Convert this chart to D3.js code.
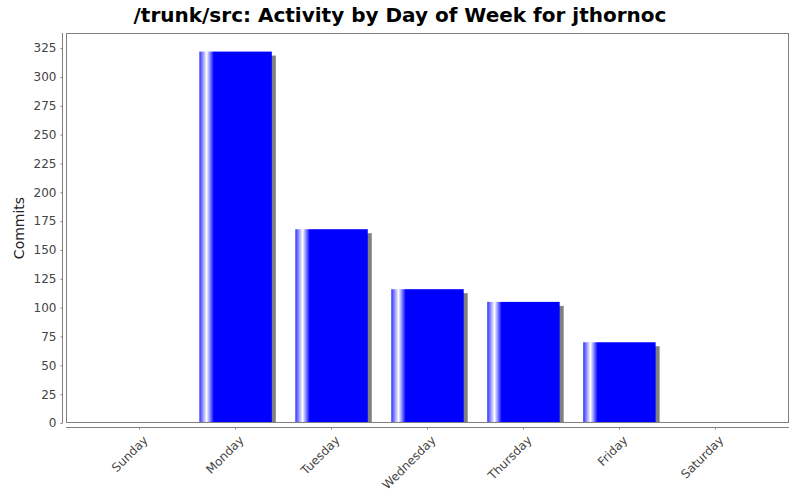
<!DOCTYPE html>
<html>
<head>
<meta charset="utf-8">
<script src="https://cdn.jsdelivr.net/npm/d3@7"></script>
<style>
body { margin: 0; background: #fff; }
svg { display: block; }
</style>
</head>
<body>
<svg id="chart" width="800" height="500"></svg>
<script>
const titleText = "/trunk/src: Activity by Day of Week for jthornoc";
const yAxisTitle = "Commits";
const days = ["Sunday", "Monday", "Tuesday", "Wednesday", "Thursday", "Friday", "Saturday"];
const commits = [0, 322, 168, 116, 105, 70, 0];
const yTicks = [0, 25, 50, 75, 100, 125, 150, 175, 200, 225, 250, 275, 300, 325];

const svg = d3.select("#chart");
const plot = { left: 66, top: 33, right: 789, bottom: 423 };
const font = "DejaVu Sans, sans-serif";

const x = d3.scaleBand()
  .domain(days)
  .range([plot.left, plot.right])
  .paddingInner(0.245)
  .paddingOuter(0.39);

const y = d3.scaleLinear()
  .domain([0, d3.max(commits) * 1.05])
  .range([plot.bottom, plot.top]);

const defs = svg.append("defs");
const grad = defs.append("linearGradient").attr("id", "barGrad")
  .attr("x1", "0%").attr("x2", "100%").attr("y1", "0%").attr("y2", "0%");
[[0, "#3030ff"], [0.1, "#ffffff"], [0.2, "#0000ff"], [0.8, "#0000ff"], [1, "#0000ff"]]
  .forEach(([o, c]) => grad.append("stop").attr("offset", o).attr("stop-color", c));
defs.append("clipPath").attr("id", "plotClip").append("rect")
  .attr("x", plot.left).attr("y", plot.top)
  .attr("width", plot.right - plot.left).attr("height", plot.bottom - plot.top);

// plot background
svg.append("rect").attr("x", plot.left).attr("y", plot.top)
  .attr("width", plot.right - plot.left).attr("height", plot.bottom - plot.top)
  .attr("fill", "#ffffff");

const barsG = svg.append("g").attr("clip-path", "url(#plotClip)");
const data = days.map((d, i) => ({ day: d, v: commits[i] })).filter(d => d.v > 0);

// shadows
barsG.selectAll("rect.shadow").data(data).enter().append("rect")
  .attr("class", "shadow")
  .attr("x", d => x(d.day) + 4)
  .attr("y", d => y(d.v) + 4)
  .attr("width", x.bandwidth())
  .attr("height", d => y(0) - y(d.v))
  .attr("fill", "#808080");

barsG.selectAll("rect.bar").data(data).enter().append("rect")
  .attr("class", "bar")
  .attr("x", d => x(d.day))
  .attr("y", d => y(d.v))
  .attr("width", x.bandwidth())
  .attr("height", d => y(0) - y(d.v))
  .attr("fill", "url(#barGrad)");

// plot border
svg.append("rect").attr("x", plot.left + 0.5).attr("y", plot.top + 0.5)
  .attr("width", plot.right - plot.left - 1).attr("height", plot.bottom - plot.top - 1)
  .attr("fill", "none").attr("stroke", "#808080").attr("stroke-width", 1);

// y axis
const yAxis = d3.axisLeft(y).tickValues(yTicks).tickSize(2).tickPadding(4).tickSizeOuter(0);
const yG = svg.append("g").attr("transform", "translate(62.5,0)").call(yAxis);
yG.select(".domain").attr("stroke", "#808080").attr("d", `M0,${plot.top}V${plot.bottom}`);
yG.selectAll(".tick line").attr("stroke", "#808080");
yG.selectAll(".tick text").attr("fill", "#444").style("font", `12px ${font}`);

// x axis
const xAxis = d3.axisBottom(x).tickSize(2).tickSizeOuter(0).tickFormat("");
const xG = svg.append("g").attr("transform", "translate(0,427.5)").call(xAxis);
xG.select(".domain").attr("stroke", "#808080").attr("d", `M${plot.left},0H${plot.right}`);
xG.selectAll(".tick line").attr("stroke", "#808080");

svg.append("g").selectAll("text").data(days).enter().append("text")
  .attr("transform", d => `translate(${x(d) + x.bandwidth() / 2 + 6},438) rotate(-45)`)
  .attr("text-anchor", "end")
  .attr("dy", "0.35em")
  .attr("fill", "#444")
  .style("font", `12px ${font}`)
  .text(d => d);

// y title
svg.append("text")
  .attr("transform", `translate(24,${(plot.top + plot.bottom) / 2}) rotate(-90)`)
  .attr("text-anchor", "middle")
  .attr("fill", "#222")
  .style("font", `14px ${font}`)
  .text(yAxisTitle);

// title
svg.append("text")
  .attr("x", 400).attr("y", 22)
  .attr("text-anchor", "middle")
  .attr("fill", "#000")
  .style("font", `bold 20px ${font}`)
  .text(titleText);
</script>
</body>
</html>
